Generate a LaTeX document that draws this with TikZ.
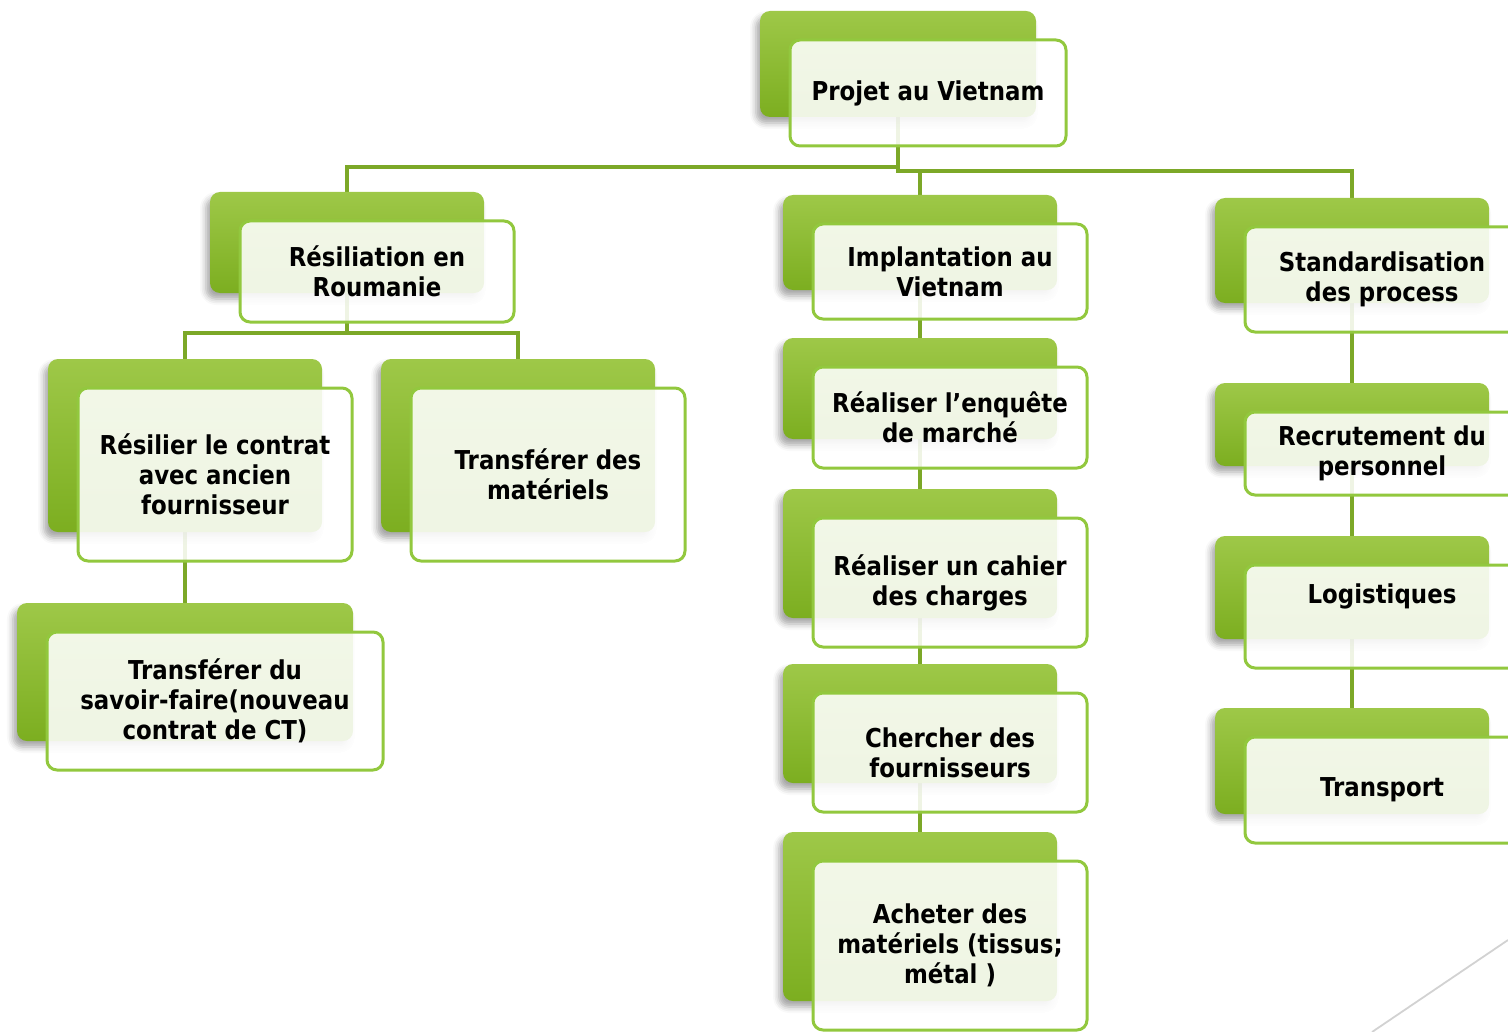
\documentclass[tikz,border=0pt]{standalone}
\usepackage{fontspec}
\setmainfont{DejaVu Sans}[FakeStretch=0.88]
\usetikzlibrary{calc,shadows.blur}
\pgfdeclarelayer{bg}
\pgfsetlayers{bg,main}
\definecolor{gTop}{RGB}{158,200,72}
\definecolor{gBot}{RGB}{124,174,32}
\definecolor{gLine}{RGB}{146,200,62}
\definecolor{gConn}{RGB}{124,168,40}
\definecolor{deco}{RGB}{210,210,210}
\tikzset{
  backbox/.style={rounded corners=5pt, top color=gTop, bottom color=gBot, draw=none,
    blur shadow={shadow xshift=-2pt, shadow yshift=-3pt, shadow blur radius=3pt, shadow opacity=35},
    inner sep=0pt},
  frontbox/.style={rounded corners=5pt, draw=gLine, line width=1.5pt, fill=white,
    fill opacity=0.88, text opacity=1, align=center,
    font=\bfseries\fontsize{13pt}{15pt}\selectfont, inner sep=2pt},
  conn/.style={draw=gConn, line width=1.6pt},
  decoline/.style={draw=deco, line width=0.9pt},
}
% #1 extra options, #2 name, #3 cx, #4 cy, #5 width px, #6 height px, #7 text
\newcommand\smbox[7][]{%
  \node[backbox, minimum width={#5*0.5pt}, minimum height={#6*0.5pt}] (#2-b) at (#3-30,#4-29) {};
  \node[frontbox, minimum width={#5*0.5pt}, minimum height={#6*0.5pt}, #1] (#2) at (#3,#4) {#7};}
\begin{document}
\begin{tikzpicture}[x=0.5pt, y=-0.5pt]
\useasboundingbox (0,0) rectangle (1508,1032);
\clip (0,0) rectangle (1508,1032);

\smbox{projet}{928}{93}{276}{106}{Projet au Vietnam}
\smbox{resil}{377}{271.5}{274}{101}{Résiliation en\\Roumanie}
\smbox{impl}{950}{271.5}{274}{95}{Implantation au\\Vietnam}
\smbox{stand}{1382}{279.5}{274}{105}{Standardisation\\des process}
\smbox{resct}{215}{474.5}{274}{173}{Résilier le contrat\\avec ancien\\fournisseur}
\smbox{trmat}{548}{474.5}{274}{173}{Transférer des\\matériels}
\smbox{trsav}{215}{701}{336}{138}{Transférer du\\savoir-faire(nouveau\\contrat de CT)}
\smbox{enq}{950}{417.5}{274}{101}{Réaliser l’enquête\\de marché}
\smbox{cahier}{950}{582.5}{274}{129}{Réaliser un cahier\\des charges}
\smbox{cherch}{950}{752.5}{274}{119}{Chercher des\\fournisseurs}
\smbox{achat}{950}{945.5}{274}{169}{Acheter des\\matériels (tissus;\\métal )}
\smbox{recrut}{1382}{453.5}{274}{83}{Recrutement du\\personnel}
\smbox[text depth=23pt]{logist}{1382}{616.5}{274}{103}{Logistiques}
\smbox{transp}{1382}{790}{274}{106}{Transport}

\coordinate (busA) at (0,167);
\coordinate (busB) at (0,171);
\coordinate (busC) at (0,333);
\coordinate (d1) at (1508,940);
\coordinate (d2) at (1372,1032);

\begin{pgfonlayer}{bg}
  \draw[conn] (projet-b.south) -- (projet-b.south |- busA) -| (resil-b.north);
  \draw[conn] (projet-b.south) -- (projet-b.south |- busB) -| (impl-b.north);
  \draw[conn] (projet-b.south |- busB) -| (stand-b.north);
  \draw[conn] (resil-b.south) -- (resil-b.south |- busC) -| (resct-b.north);
  \draw[conn] (resil-b.south |- busC) -| (trmat-b.north);
  \draw[conn] (resct-b.south) -- (trsav-b.north);
  \draw[conn] (impl-b.south) -- (enq-b.north);
  \draw[conn] (enq-b.south) -- (cahier-b.north);
  \draw[conn] (cahier-b.south) -- (cherch-b.north);
  \draw[conn] (cherch-b.south) -- (achat-b.north);
  \draw[conn] (stand-b.south) -- (recrut-b.north);
  \draw[conn] (recrut-b.south) -- (logist-b.north);
  \draw[conn] (logist-b.south) -- (transp-b.north);
  \draw[decoline] (d1) -- (d2);
\end{pgfonlayer}
\end{tikzpicture}
\end{document}
